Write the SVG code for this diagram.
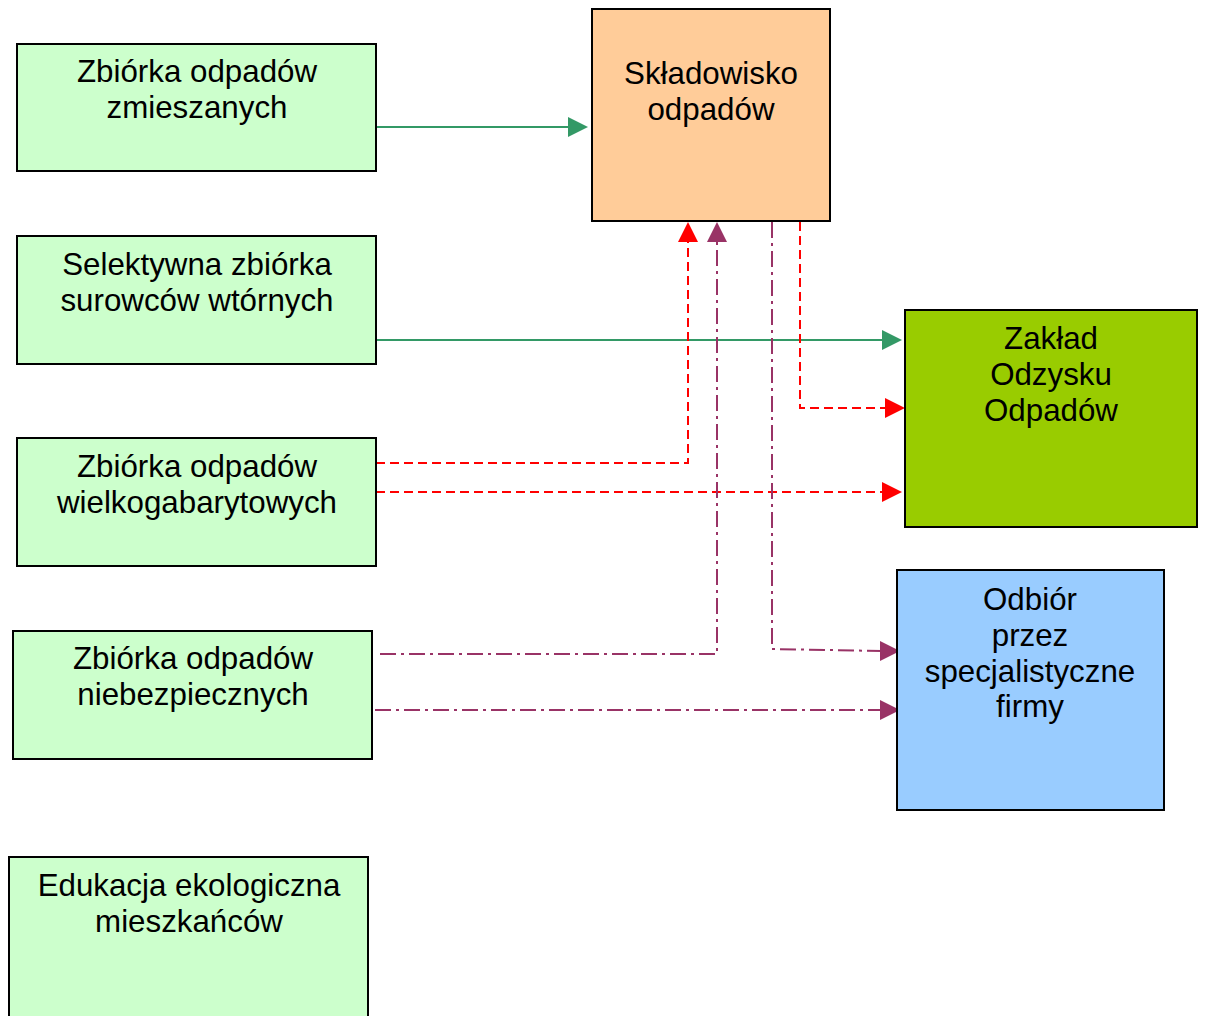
<svg xmlns="http://www.w3.org/2000/svg" width="1206" height="1016" viewBox="0 0 1206 1016">
<defs>
<style>
.box{stroke:#000;stroke-width:2}
.g{fill:#CCFFCC}
.t{font-family:"Liberation Sans",Arial,sans-serif;font-size:31.3px;fill:#000;text-anchor:middle}
.cg{fill:none;stroke:#339966;stroke-width:2}
.cr{fill:none;stroke:#FF0000;stroke-width:2;stroke-dasharray:9,5}
.cp{fill:none;stroke:#993366;stroke-width:2;stroke-dasharray:16,5,3,5}
</style>
</defs>
<rect width="1206" height="1016" fill="#fff"/>
<g id="connectors">
<path class="cg" d="M376,127H570"/>
<path d="M568,117L588,127L568,137z" fill="#339966"/>
<path class="cg" d="M376,340H884"/>
<path d="M882,330L902,340L882,350z" fill="#339966"/>
<path class="cr" d="M376,463H688V242"/>
<path d="M678,242L688,222L698,242z" fill="#FF0000"/>
<path class="cr" d="M376,492H884"/>
<path d="M882,482L902,492L882,502z" fill="#FF0000"/>
<path class="cr" d="M800,222V408H886"/>
<path d="M885,398L905,408L885,418z" fill="#FF0000"/>
<path class="cp" d="M380,654H717V242"/>
<path d="M707,242L717,222L727,242z" fill="#993366"/>
<path class="cp" d="M772,222V649L882,651"/>
<path d="M880,641L900,651L880,661z" fill="#993366"/>
<path class="cp" d="M375,710H882"/>
<path d="M880,700L900,710L880,720z" fill="#993366"/>
</g>
<g id="n-zmieszane">
<rect class="box g" x="17" y="44" width="359" height="127"/>
<text class="t" x="197" y="82">Zbiórka odpadów</text>
<text class="t" x="197" y="118">zmieszanych</text>
</g>
<g id="n-skladowisko">
<rect class="box" fill="#FFCC99" x="592" y="9" width="238" height="212"/>
<text class="t" x="711" y="84">Składowisko</text>
<text class="t" x="711" y="120">odpadów</text>
</g>
<g id="n-selektywna">
<rect class="box g" x="17" y="236" width="359" height="128"/>
<text class="t" x="197" y="275">Selektywna zbiórka</text>
<text class="t" x="197" y="311">surowców wtórnych</text>
</g>
<g id="n-wielkogabarytowe">
<rect class="box g" x="17" y="438" width="359" height="128"/>
<text class="t" x="197" y="477">Zbiórka odpadów</text>
<text class="t" x="197" y="513">wielkogabarytowych</text>
</g>
<g id="n-niebezpieczne">
<rect class="box g" x="13" y="631" width="359" height="128"/>
<text class="t" x="193" y="669">Zbiórka odpadów</text>
<text class="t" x="193" y="705">niebezpiecznych</text>
</g>
<g id="n-edukacja">
<rect class="box g" x="9" y="857" width="359" height="170"/>
<text class="t" x="189" y="896">Edukacja ekologiczna</text>
<text class="t" x="189" y="932">mieszkańców</text>
</g>
<g id="n-zaklad">
<rect class="box" fill="#99CC00" x="905" y="310" width="292" height="217"/>
<text class="t" x="1051" y="349">Zakład</text>
<text class="t" x="1051" y="385">Odzysku</text>
<text class="t" x="1051" y="421">Odpadów</text>
</g>
<g id="n-odbior">
<rect class="box" fill="#99CCFF" x="897" y="570" width="267" height="240"/>
<text class="t" x="1030" y="610">Odbiór</text>
<text class="t" x="1030" y="646">przez</text>
<text class="t" x="1030" y="682">specjalistyczne</text>
<text class="t" x="1030" y="717">firmy</text>
</g>
</svg>
